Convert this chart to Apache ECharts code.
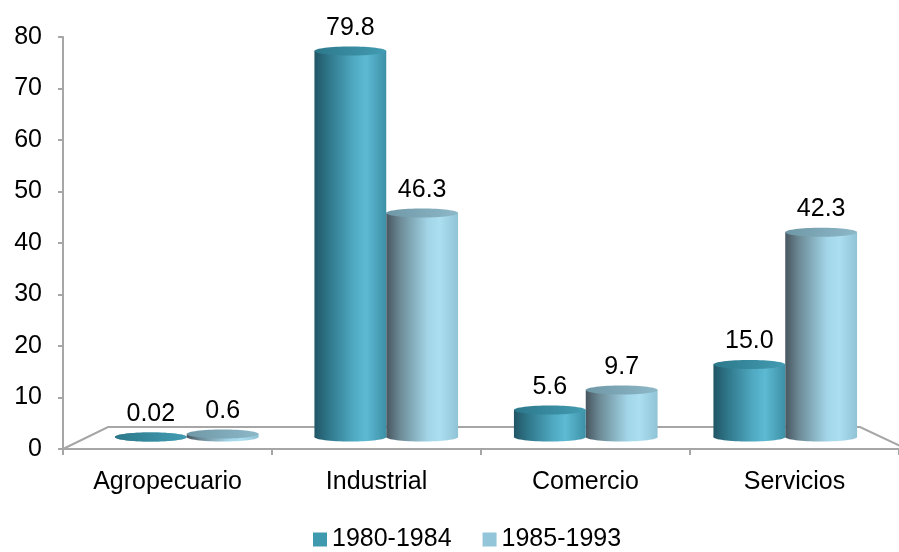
<!DOCTYPE html>
<html>
<head>
<meta charset="utf-8">
<script src="https://cdn.jsdelivr.net/npm/echarts@6/dist/echarts.min.js"></script>
<style>
  html, body { margin: 0; padding: 0; background: #fff; }
  #chart { width: 899px; height: 552px; }
</style>
</head>
<body>
<div id="chart"></div>
<script>
// Sector shares by period
const categories = ['Agropecuario', 'Industrial', 'Comercio', 'Servicios'];
const seriesNames = ['1980-1984', '1985-1993'];
const values1980 = [0.02, 79.8, 5.6, 15.0];
const values1985 = [0.6, 46.3, 9.7, 42.3];
const yTicks = { min: 0, max: 80, interval: 10 };

const FONT = '"Liberation Sans", Arial, sans-serif';
const FONT_SIZE = 25;

// Front (axis) frame
const AXIS_LEFT = 63, AXIS_TOP = 37, AXIS_BASE_Y = 449, AXIS_WIDTH = 845;
// Bars sit deeper in the box, so their scale is a little smaller
const BAR_LEFT = 87, BAR_WIDTH = 798, BAR_TOP = 50, BAR_BASE_Y = 437;
const BAR_RATIO = 0.36;
// Floor depth
const DEPTH_DX = 45, DEPTH_DY = 22, BACK_RIGHT_X = 860;

const W = 899, H = 552;

const G = echarts.graphic.LinearGradient;
const palette = [
  {
    legend: '#3f9ab0',
    body: () => new G(0, 0, 1, 0, [
      { offset: 0, color: '#215565' },
      { offset: 0.18, color: '#2e7487' },
      { offset: 0.55, color: '#4faac2' },
      { offset: 0.72, color: '#5cbad2' },
      { offset: 1, color: '#3d90a6' }
    ]),
    top: () => new G(0, 0, 1, 0, [
      { offset: 0, color: '#2c788b' },
      { offset: 1, color: '#439cb2' }
    ])
  },
  {
    legend: '#93c6d8',
    body: () => new G(0, 0, 1, 0, [
      { offset: 0, color: '#48565f' },
      { offset: 0.2, color: '#6d8c98' },
      { offset: 0.58, color: '#a2d5e7' },
      { offset: 0.75, color: '#abdff0' },
      { offset: 1, color: '#8fc3d5' }
    ]),
    top: () => new G(0, 0, 1, 0, [
      { offset: 0, color: '#6f98a7' },
      { offset: 1, color: '#8db8c7' }
    ])
  }
];

function fmt(v) {
  return v < 0.1 ? v.toFixed(2) : v.toFixed(1);
}

function renderCylinder(params, api) {
  const s = params.seriesIndex;
  const cat = api.value(0), val = api.value(1);
  const base = api.coord([cat, 0]);
  const top = api.coord([cat, val]);
  const band = api.size([1, 0])[0];
  const w = band * BAR_RATIO;
  const x0 = base[0] - w + s * w;
  const cx = x0 + w / 2;
  const ry = 4.5;
  const p = palette[s];
  return {
    type: 'group',
    children: [
      { type: 'ellipse', shape: { cx: cx, cy: base[1], rx: w / 2, ry: ry }, style: { fill: p.body() } },
      { type: 'rect', shape: { x: x0, y: top[1], width: w, height: base[1] - top[1] }, style: { fill: p.body() } },
      { type: 'ellipse', shape: { cx: cx, cy: top[1], rx: w / 2, ry: ry }, style: { fill: p.top() } },
      {
        type: 'text',
        style: {
          text: fmt(val), x: cx, y: top[1] - ry - 6,
          align: 'center', verticalAlign: 'bottom',
          fontSize: FONT_SIZE, fontFamily: FONT, fill: '#000'
        }
      }
    ]
  };
}

const chart = echarts.init(document.getElementById('chart'), null, { renderer: 'canvas' });

const floorLine = { stroke: '#a6a6a6', lineWidth: 2, fill: null };

chart.setOption({
  animation: false,
  backgroundColor: '#fff',
  textStyle: { fontFamily: FONT },
  legend: {
    data: seriesNames,
    top: 527,
    left: 313,
    padding: 0,
    icon: 'rect',
    itemWidth: 14,
    itemHeight: 14,
    itemGap: 31,
    textStyle: { fontSize: FONT_SIZE, color: '#000', fontFamily: FONT }
  },
  grid: [
    { left: AXIS_LEFT, top: AXIS_TOP, width: AXIS_WIDTH, bottom: H - AXIS_BASE_Y },
    { left: BAR_LEFT, top: BAR_TOP, width: BAR_WIDTH, bottom: H - BAR_BASE_Y }
  ],
  xAxis: [
    {
      gridIndex: 0, type: 'category', data: categories,
      axisLine: { lineStyle: { color: '#a6a6a6', width: 2 } },
      axisTick: { show: true, length: 6, lineStyle: { color: '#a6a6a6', width: 2 } },
      axisLabel: { color: '#000', fontSize: FONT_SIZE, fontFamily: FONT, margin: 21 }
    },
    { gridIndex: 1, type: 'category', data: categories, show: false }
  ],
  yAxis: [
    {
      gridIndex: 0, type: 'value', min: yTicks.min, max: yTicks.max, interval: yTicks.interval,
      axisLine: { show: true, lineStyle: { color: '#a6a6a6', width: 2 } },
      axisTick: { show: true, length: 5, lineStyle: { color: '#a6a6a6', width: 2 } },
      splitLine: { show: false },
      axisLabel: { color: '#000', fontSize: FONT_SIZE, fontFamily: FONT, margin: 21 }
    },
    { gridIndex: 1, type: 'value', min: yTicks.min, max: yTicks.max, show: false }
  ],
  graphic: [
    {
      type: 'polyline', silent: true, z: 1,
      shape: {
        points: [
          [AXIS_LEFT, AXIS_BASE_Y],
          [AXIS_LEFT + DEPTH_DX, AXIS_BASE_Y - DEPTH_DY],
          [BACK_RIGHT_X, AXIS_BASE_Y - DEPTH_DY],
          [BACK_RIGHT_X + DEPTH_DX + 4, AXIS_BASE_Y + 1]
        ]
      },
      style: floorLine
    }
  ],
  series: [
    {
      name: seriesNames[0], type: 'custom', xAxisIndex: 1, yAxisIndex: 1,
      renderItem: renderCylinder, clip: false, z: 3,
      itemStyle: { color: palette[0].legend },
      encode: { x: 0, y: 1 },
      data: values1980.map((v, i) => [i, v])
    },
    {
      name: seriesNames[1], type: 'custom', xAxisIndex: 1, yAxisIndex: 1,
      renderItem: renderCylinder, clip: false, z: 2,
      itemStyle: { color: palette[1].legend },
      encode: { x: 0, y: 1 },
      data: values1985.map((v, i) => [i, v])
    }
  ]
});
</script>
</body>
</html>
